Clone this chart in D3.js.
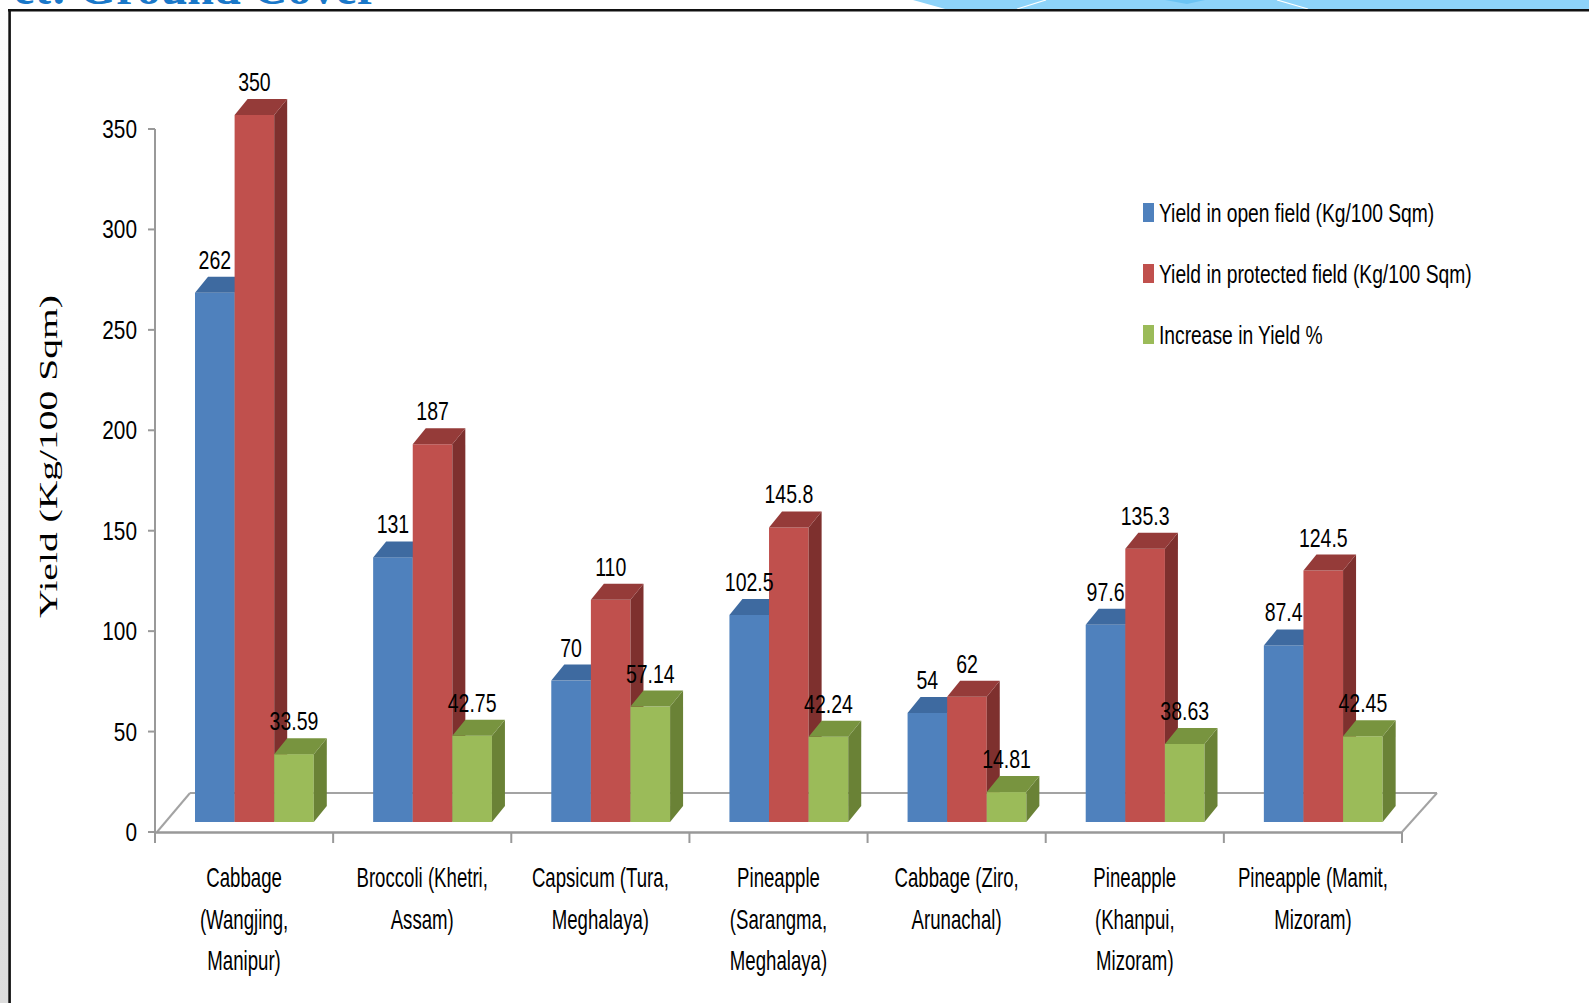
<!DOCTYPE html>
<html><head><meta charset="utf-8">
<script src="https://cdn.jsdelivr.net/npm/d3@7"></script>
<style>html,body{margin:0;padding:0;background:#fff;overflow:hidden}</style>
</head><body>
<svg id="c" width="1589" height="1003"></svg>
<script>
const categories = [
  ["Cabbage","(Wangjing,","Manipur)"],
  ["Broccoli (Khetri,","Assam)"],
  ["Capsicum (Tura,","Meghalaya)"],
  ["Pineapple","(Sarangma,","Meghalaya)"],
  ["Cabbage (Ziro,","Arunachal)"],
  ["Pineapple","(Khanpui,","Mizoram)"],
  ["Pineapple (Mamit,","Mizoram)"]
];
const openField = [262,131,70,102.5,54,97.6,87.4];
const protectedField = [350,187,110,145.8,62,135.3,124.5];
const increasePct = [33.59,42.75,57.14,42.24,14.81,38.63,42.45];
const seriesNames = ["Yield in open field (Kg/100 Sqm)","Yield in protected field (Kg/100 Sqm)","Increase in Yield  %"];
const yTicks = [0,50,100,150,200,250,300,350];
const yTitle = "Yield  (Kg/100 Sqm)";
const titleText = "et: Ground Cover";

const series = [openField, protectedField, increasePct];
const palette = [
  {front:"#4f81bd", side:"#385d8a", top:"#3e6aa0"},
  {front:"#c0504d", side:"#7e302e", top:"#953b39"},
  {front:"#9bbb59", side:"#6a8236", top:"#78943f"}
];
const SANS = "'Liberation Sans',Arial,sans-serif";

const svg = d3.select("#c");
const defs = svg.append("defs");
const lg = defs.append("linearGradient").attr("id","lstrip").attr("x1",0).attr("y1",0).attr("x2",0).attr("y2",1);
lg.append("stop").attr("offset",0).attr("stop-color","#fbfbfb");
lg.append("stop").attr("offset",1).attr("stop-color","#dcdcdc");

// page decoration
svg.append("rect").attr("x",0).attr("y",0).attr("width",1589).attr("height",1003).attr("fill","#fff");
svg.append("rect").attr("x",0).attr("y",10).attr("width",9).attr("height",993).attr("fill","url(#lstrip)");
svg.append("polygon").attr("points","913,0 1589,0 1589,9.5 947,9.5").attr("fill","#8ed3f9");
svg.append("polygon").attr("points","1165,0 1205,0 1187,4").attr("fill","#6cc4f4");
svg.append("line").attr("x1",1017).attr("y1",9).attr("x2",1046).attr("y2",0).attr("stroke","#fff").attr("stroke-width",1.2);
svg.append("line").attr("x1",1277).attr("y1",0).attr("x2",1308).attr("y2",9).attr("stroke","#fff").attr("stroke-width",1.2);
svg.append("text").attr("x",378).attr("y",4).attr("text-anchor","end")
  .attr("font-family","'Liberation Serif',serif").attr("font-weight","bold").attr("font-size",48)
  .attr("fill","#1a78c9").text(titleText);
svg.append("line").attr("x1",8).attr("y1",10.3).attr("x2",1589).attr("y2",10.3).attr("stroke","#111").attr("stroke-width",2.4);
svg.append("line").attr("x1",9.6).attr("y1",9).attr("x2",9.6).attr("y2",1003).attr("stroke","#111").attr("stroke-width",2.6);

function addText(g, x, y, str, size, anchor, sx, family){
  return g.append("text").attr("transform",`translate(${x},${y}) scale(${sx},1)`)
    .attr("text-anchor",anchor).attr("font-family",family||SANS).attr("font-size",size)
    .attr("fill","#000").text(str);
}

// scales
const x = d3.scaleBand().domain(d3.range(categories.length)).range([155,1402]);
const xs = d3.scaleBand().domain([0,1,2]).range([0,118.8]);
const y = d3.scaleLinear().domain([0,350]).range([832,129]);
const yBar = d3.scaleLinear().domain([0,350]).range([822,115]);
const DX = 13, DY = 16, OFF = 40;

const g = svg.append("g");
const gray = "#a3a3a3";
// floor
g.append("line").attr("x1",190).attr("y1",793).attr("x2",1437).attr("y2",793).attr("stroke",gray).attr("stroke-width",2);
g.append("line").attr("x1",157).attr("y1",832).attr("x2",190).attr("y2",793).attr("stroke",gray).attr("stroke-width",2);
g.append("line").attr("x1",1402).attr("y1",832).attr("x2",1437).attr("y2",793).attr("stroke",gray).attr("stroke-width",2);
g.append("line").attr("x1",155).attr("y1",832.5).attr("x2",1402).attr("y2",832.5).attr("stroke","#999").attr("stroke-width",2.5);
// category ticks
d3.range(categories.length+1).forEach(i=>{
  const xx = i < categories.length ? x(i) : x(categories.length-1)+x.bandwidth();
  g.append("line").attr("x1",xx).attr("y1",832).attr("x2",xx).attr("y2",843).attr("stroke","#999").attr("stroke-width",2);
});
// y axis
g.append("line").attr("x1",155).attr("y1",y(350)).attr("x2",155).attr("y2",838).attr("stroke","#999").attr("stroke-width",2);
yTicks.forEach(t=>{
  g.append("line").attr("x1",148).attr("y1",y(t)).attr("x2",155).attr("y2",y(t)).attr("stroke","#999").attr("stroke-width",2);
  addText(g, 137, y(t)+9, String(t), 26, "end", 0.8);
});

// bars
categories.forEach((cat,i)=>{
  series.forEach((vals,s)=>{
    const v = vals[i];
    const bx = x(i)+OFF+xs(s), w = xs.bandwidth();
    const top = yBar(v), base = yBar(0);
    const c = palette[s];
    g.append("rect").attr("x",bx).attr("y",top).attr("width",w).attr("height",base-top).attr("fill",c.front);
    g.append("polygon").attr("points",`${bx+w},${top} ${bx+w+DX},${top-DY} ${bx+w+DX},${base-DY} ${bx+w},${base}`).attr("fill",c.side);
    g.append("polygon").attr("points",`${bx},${top} ${bx+DX},${top-DY} ${bx+w+DX},${top-DY} ${bx+w},${top}`).attr("fill",c.top);
  });
});
// data labels
categories.forEach((cat,i)=>{
  series.forEach((vals,s)=>{
    const v = vals[i];
    const bx = x(i)+OFF+xs(s), w = xs.bandwidth();
    addText(g, bx+w/2, yBar(v)-DY-8, String(v), 26, "middle", 0.75);
  });
});
// category labels
categories.forEach((lines,i)=>{
  lines.forEach((ln,k)=>{
    addText(g, x(i)+x.bandwidth()/2, 887+k*41.5, ln, 27, "middle", 0.69);
  });
});
// y title
svg.append("text").attr("transform","translate(57,456.5) rotate(-90)").attr("text-anchor","middle")
  .attr("font-family","'Liberation Serif',serif").attr("font-size",25).attr("fill","#000")
  .attr("textLength",323).attr("lengthAdjust","spacingAndGlyphs").text(yTitle);
// legend
const legY = [222,283,344];
seriesNames.forEach((nm,s)=>{
  svg.append("rect").attr("x",1143).attr("y",legY[s]-19).attr("width",11).attr("height",19).attr("fill",palette[s].front);
  addText(svg, 1159, legY[s], nm, 25, "start", 0.77);
});
</script>
</body></html>
